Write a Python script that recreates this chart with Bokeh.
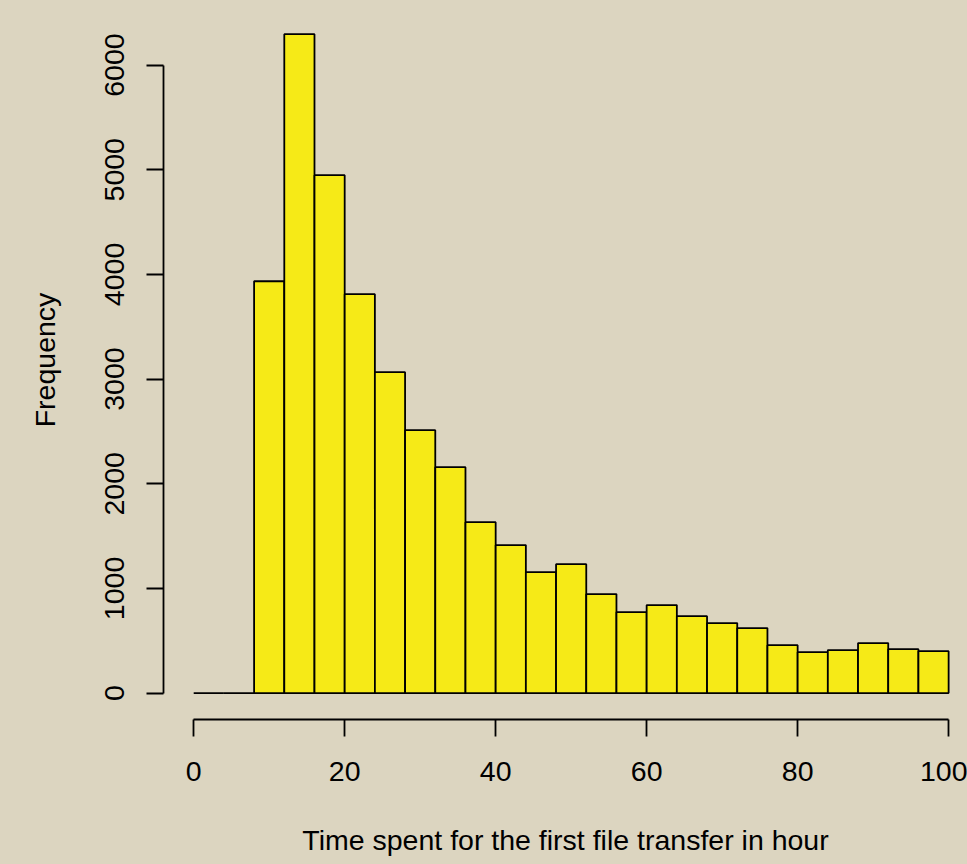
from bokeh.plotting import figure
from bokeh.models import FixedTicker, Range1d
from bokeh.embed import file_html
from bokeh.resources import INLINE

# Histogram data: bin edges (hours) and counts
bin_edges = [0, 4, 8, 12, 16, 20, 24, 28, 32, 36, 40, 44, 48, 52, 56, 60,
             64, 68, 72, 76, 80, 84, 88, 92, 96, 100]
counts = [0, 0, 3935, 6295, 4948, 3811, 3066, 2512, 2159, 1633, 1414, 1156,
          1232, 946, 774, 841, 735, 669, 621, 458, 392, 411, 478, 420, 401]
x_ticks = [0, 20, 40, 60, 80, 100]
y_ticks = [0, 1000, 2000, 3000, 4000, 5000, 6000]
x_label = "Time spent for the first file transfer in hour"
y_label = "Frequency"

BG = "#DCD5C0"
FONT = "Liberation Sans"
FS = "28.5px"

p = figure(width=967, height=864, output_backend="svg", toolbar_location=None,
           x_range=Range1d(-4, 102.5), y_range=Range1d(-252, 6617),
           min_border_left=163, min_border_right=0, min_border_top=0,
           min_border_bottom=145)
p.background_fill_color = BG
p.border_fill_color = BG
p.outline_line_color = None
p.xgrid.visible = False
p.ygrid.visible = False

p.quad(left=bin_edges[:-1], right=bin_edges[1:], bottom=0, top=counts,
       fill_color="#F6EA17", line_color="black", line_width=1.8)

for ax in (p.xaxis[0], p.yaxis[0]):
    ax.axis_line_color = "black"
    ax.axis_line_width = 1.8
    ax.major_tick_line_color = "black"
    ax.major_tick_line_width = 1.8
    ax.major_tick_in = 0
    ax.major_tick_out = 17
    ax.minor_tick_line_color = None
    ax.major_label_text_font = FONT
    ax.major_label_text_font_size = FS
    ax.major_label_text_color = "black"
    ax.axis_label_text_font = FONT
    ax.axis_label_text_font_size = FS
    ax.axis_label_text_font_style = "normal"
    ax.axis_label_text_color = "black"

p.xaxis[0].ticker = FixedTicker(ticks=x_ticks)
p.xaxis[0].bounds = (0, 100)
p.xaxis[0].axis_label = x_label
p.xaxis[0].major_label_standoff = 25
p.xaxis[0].axis_label_standoff = 40

p.yaxis[0].ticker = FixedTicker(ticks=y_ticks)
p.yaxis[0].bounds = (0, 6000)
p.yaxis[0].axis_label = y_label
p.yaxis[0].major_label_orientation = "vertical"
p.yaxis[0].major_label_standoff = 22
p.yaxis[0].axis_label_standoff = 42

html = file_html(p, INLINE)
html = html.replace("<body>", '<body style="background:%s">' % BG)
open("out.html", "w").write(html)
